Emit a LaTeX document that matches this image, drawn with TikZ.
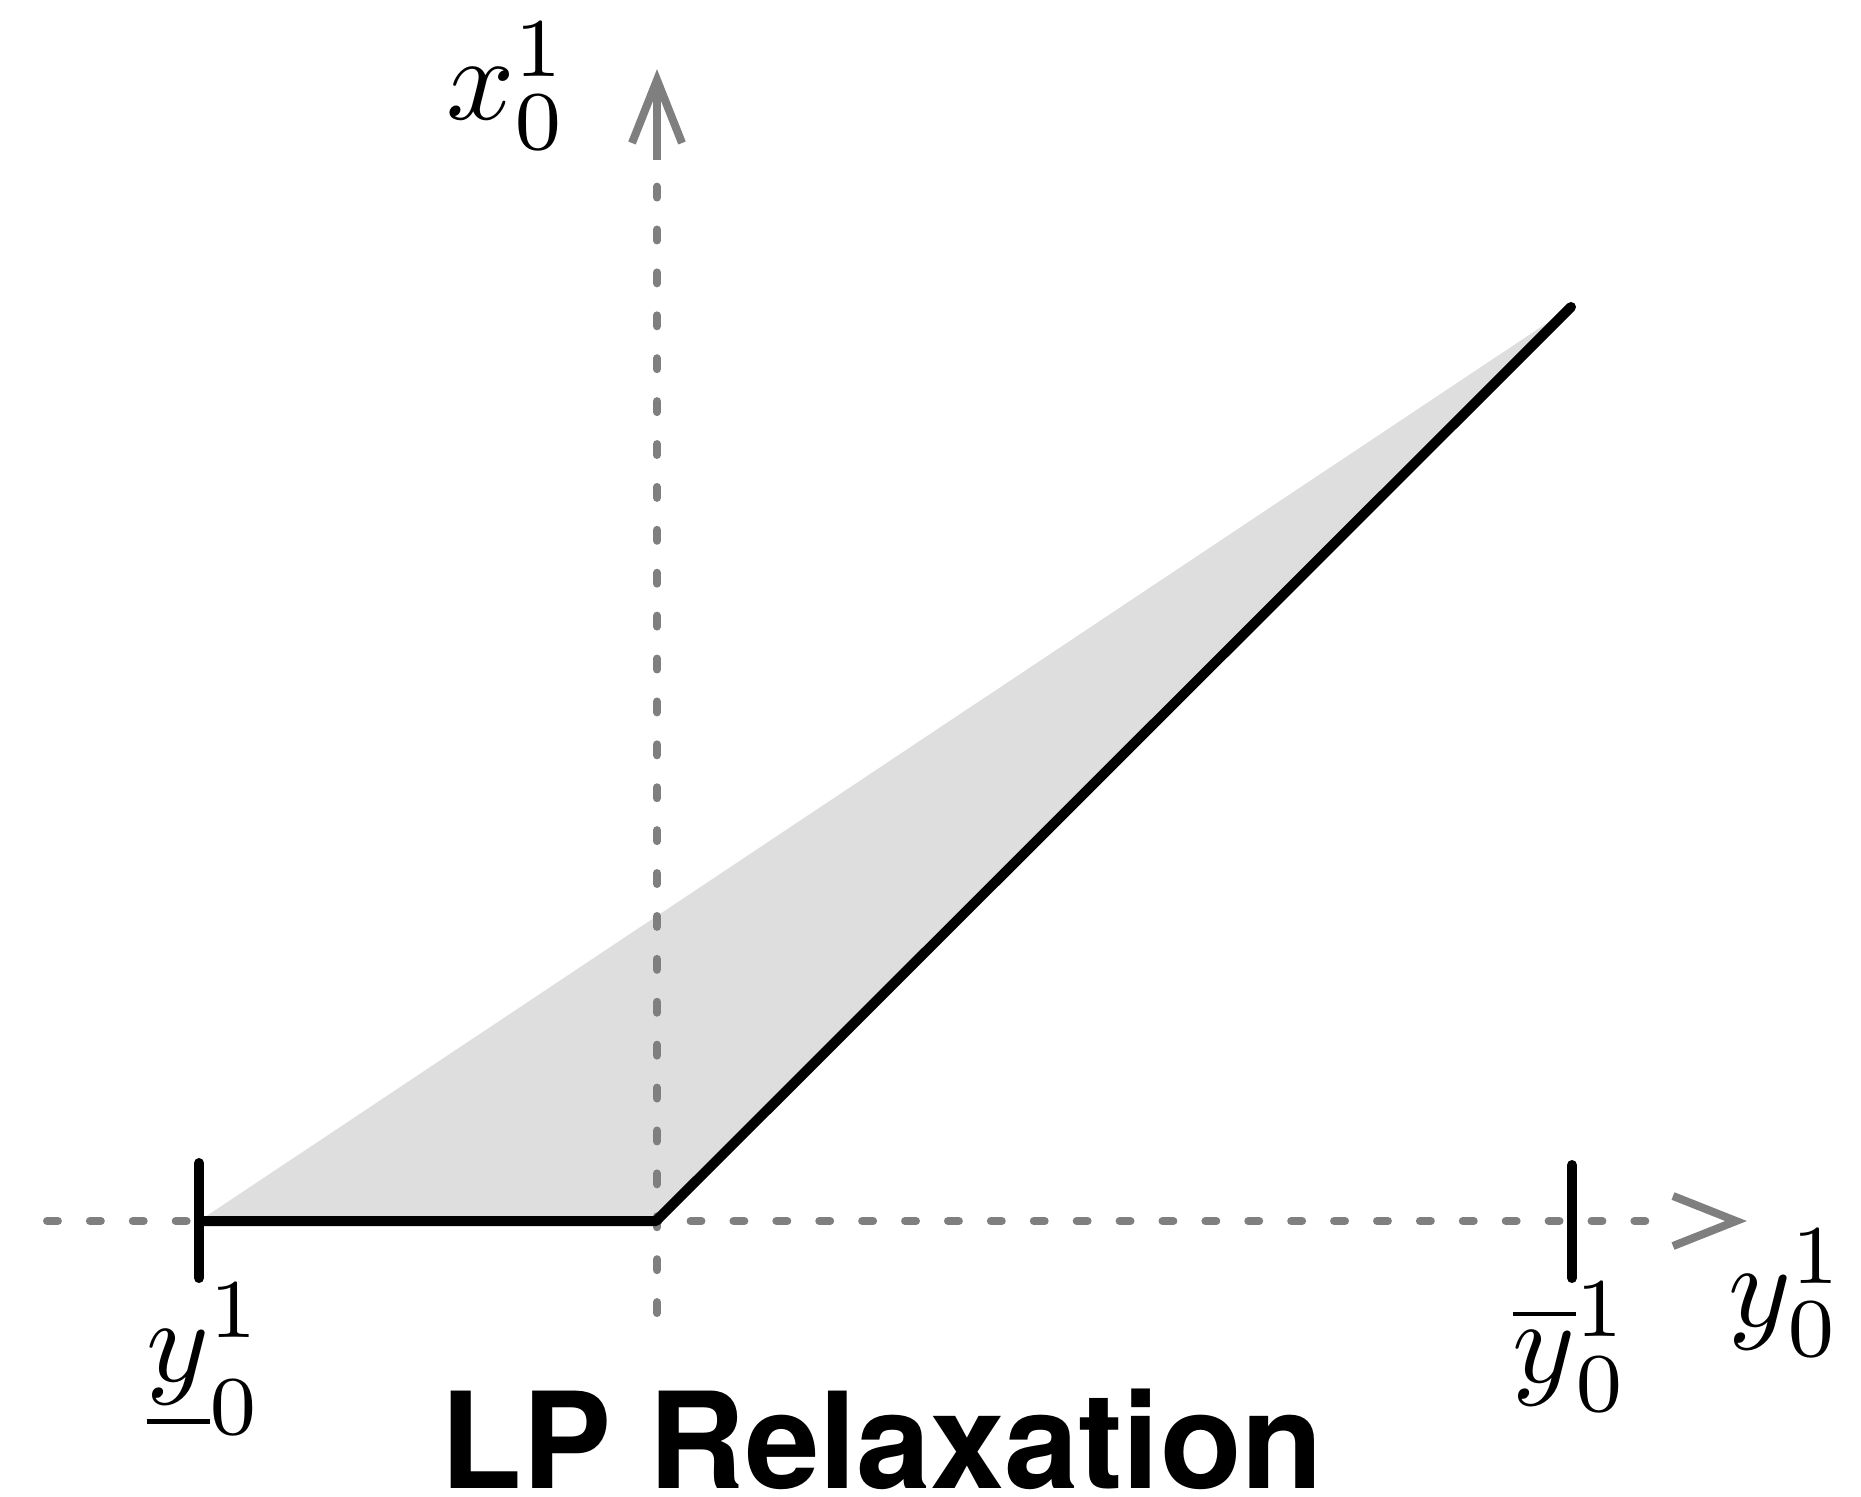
\documentclass[tikz,border=0pt]{standalone}
\usepackage{graphicx}
\usepackage{fontspec}
\setsansfont{TeX Gyre Heros}
\newcommand{\biglab}[1]{\scalebox{3.4}{$#1$}}
\begin{document}
\begin{tikzpicture}[x=0.01cm,y=-0.01cm,
  axisline/.style={draw=axisgray,line width=2.28pt,line cap=round,dash pattern=on 3.1pt off 9.1pt},
  axissolid/.style={draw=axisgray,line width=2.28pt,line cap=butt,line join=miter},
  blackline/.style={draw=black,line width=2.85pt,line cap=round,line join=round},
  region/.style={fill=regiongray,draw=none},
  lbl/.style={inner sep=0pt},
  titlefont/.style={inner sep=0pt,font=\fontsize{38}{44}\selectfont\sffamily\bfseries}]
\definecolor{axisgray}{HTML}{7F7F7F}
\definecolor{regiongray}{HTML}{DEDEDE}
\useasboundingbox (0,0) rectangle (1861,1496);
% coordinates
\coordinate (lo) at (199,1221);
\coordinate (orig) at (656,1221);
\coordinate (top) at (1571,307);
% shaded region
\path[region] (lo) -- (orig) -- (top) -- cycle;
% axes
\coordinate (hstart) at (47,1221);
\coordinate (hend) at (1660,1221);
\coordinate (htip) at (1736,1221);
\coordinate (vstart) at (657,1313);
\coordinate (vend) at (657,160);
\coordinate (vtip) at (657,80);
\draw[axisline] (hstart) -- (hend);
\draw[axisline] (vstart) -- (vend);
\draw[axissolid] (vend) -- (vtip);
\draw[axissolid] (632,143) -- (vtip) -- (682,143);
\draw[axissolid] (1673,1196) -- (htip) -- (1673,1246);
% ticks
\coordinate (lt1) at (199,1163);
\coordinate (lt2) at (199,1278);
\coordinate (rt1) at (1572,1165);
\coordinate (rt2) at (1572,1278);
\draw[blackline] (lt1) -- (lt2);
\draw[blackline] (rt1) -- (rt2);
% boundary
\draw[blackline] (lo) -- (orig) -- (top);
% labels
\node[lbl] (xlab) at (507,86) {\biglab{x_0^1}};
\node[lbl] (ylow) at (205,1359) {\biglab{\underline{y}_0^1}};
\node[lbl] (yup) at (1571,1347) {\biglab{\overline{y}_0^1}};
\node[lbl] (yax) at (1787,1293) {\biglab{y_0^1}};
\node[titlefont,anchor=base] (title) at (882,1488) {LP Relaxation};
\end{tikzpicture}
\end{document}
